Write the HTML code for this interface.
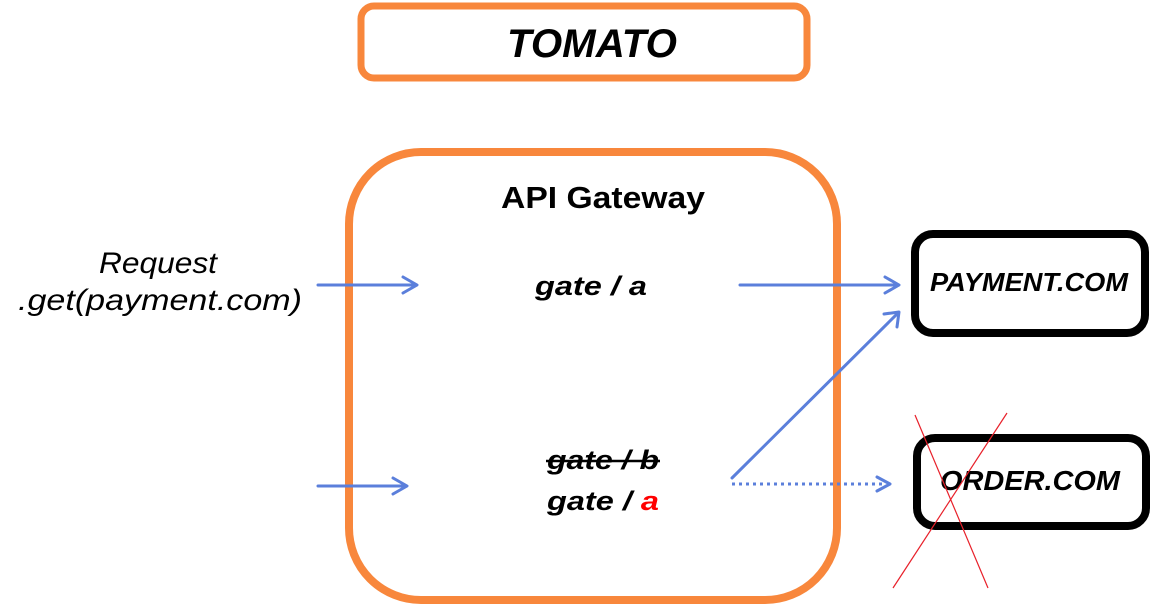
<!DOCTYPE html>
<html><head><style>
body{margin:0;background:#fff;}
svg{display:block;}
text{font-family:"Liberation Sans",sans-serif;}
</style></head><body>
<svg width="1151" height="606" viewBox="0 0 1151 606" xmlns="http://www.w3.org/2000/svg">
<rect x="361" y="6" width="446" height="72" rx="13" fill="none" stroke="#F8873C" stroke-width="7"/>
<text x="592" y="57" text-anchor="middle" font-size="40" font-weight="bold" font-style="italic" textLength="170" lengthAdjust="spacingAndGlyphs">TOMATO</text>
<rect x="349" y="152" width="488" height="448" rx="72" fill="none" stroke="#F8873C" stroke-width="8"/>
<text x="603" y="208" text-anchor="middle" font-size="31" font-weight="bold" textLength="204" lengthAdjust="spacingAndGlyphs">API Gateway</text>
<rect x="915" y="234" width="230" height="99" rx="18" fill="none" stroke="#000" stroke-width="8"/>
<text x="1029" y="291" text-anchor="middle" font-size="26" font-weight="bold" font-style="italic" textLength="198" lengthAdjust="spacingAndGlyphs">PAYMENT.COM</text>
<rect x="917" y="438" width="229" height="88" rx="18" fill="none" stroke="#000" stroke-width="8"/>
<text x="1030" y="490" text-anchor="middle" font-size="28" font-weight="bold" font-style="italic" textLength="180" lengthAdjust="spacingAndGlyphs">ORDER.COM</text>
<line x1="915" y1="415" x2="988" y2="588" stroke="#E8202A" stroke-width="1.2"/>
<line x1="1007" y1="413" x2="893" y2="588" stroke="#E8202A" stroke-width="1.2"/>
<text x="158" y="273" text-anchor="middle" font-size="30" font-style="italic" textLength="118" lengthAdjust="spacingAndGlyphs">Request</text>
<text x="160" y="310" text-anchor="middle" font-size="30" font-style="italic" textLength="284" lengthAdjust="spacingAndGlyphs">.get(payment.com)</text>
<text x="591" y="295" text-anchor="middle" font-size="27" font-weight="bold" font-style="italic" textLength="112" lengthAdjust="spacingAndGlyphs">gate / a</text>
<text x="603" y="469" text-anchor="middle" font-size="27" font-weight="bold" font-style="italic" textLength="112" lengthAdjust="spacingAndGlyphs">gate / b</text>
<line x1="546" y1="461" x2="660" y2="461" stroke="#000" stroke-width="2.5"/>
<text x="603" y="510" text-anchor="middle" font-size="27" font-weight="bold" font-style="italic" textLength="112" lengthAdjust="spacingAndGlyphs">gate / <tspan fill="#FF0000">a</tspan></text>
<g stroke="#5B7FDB" stroke-width="3" fill="none" stroke-linecap="round" stroke-linejoin="round">
<line x1="318" y1="285" x2="416" y2="285"/><polyline points="403,277 417,285 403,293"/>
<line x1="740" y1="285" x2="898" y2="285"/><polyline points="885,277 899,285 885,293"/>
<line x1="318" y1="486" x2="406" y2="486"/><polyline points="393,478 407,486 393,494"/>
<line x1="732" y1="478" x2="898" y2="313"/><polyline points="884,314 899,312 897,327"/>
<line x1="732" y1="484" x2="886" y2="484" stroke-dasharray="3 4" stroke-linecap="butt"/><polyline points="877,477 890,484 877,491"/>
</g>
</svg>
</body></html>
